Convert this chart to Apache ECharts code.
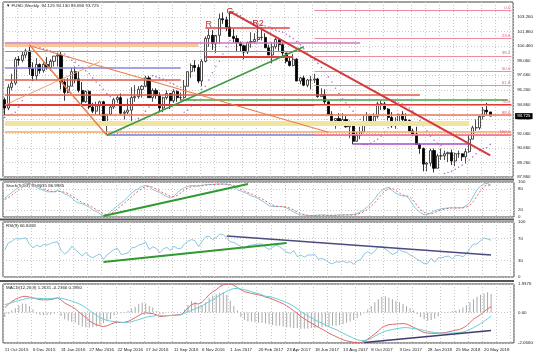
<!DOCTYPE html>
<html><head><meta charset="utf-8">
<script src="https://cdn.jsdelivr.net/npm/echarts@6/dist/echarts.min.js"></script>
<style>html,body{margin:0;padding:0;background:#fff}#c{width:536px;height:358px}</style>
</head><body><div id="c"></div>
<script>
// ---- data (weekly bars starting 11 Oct 2015) ----
const slotCount = 145;
const opens = [95.3,94.5,96.5,96.9,99.2,99.1,99.6,100.0,98.3,97.6,98.7,98.1,98.7,98.4,99.0,99.5,99.6,97.0,96.0,96.6,98.0,97.3,96.2,95.1,96.1,94.6,94.2,94.7,95.1,93.1,93.9,94.6,95.3,95.5,94.0,94.1,94.3,95.5,95.6,96.3,96.6,97.4,95.5,96.2,95.7,94.5,95.5,95.9,95.2,96.1,95.5,95.5,96.6,98.0,98.6,98.4,97.1,99.0,101.2,101.5,100.7,101.5,103.1,103.0,102.3,101.4,101.2,100.8,100.5,99.9,100.8,100.9,101.1,101.3,101.3,100.3,99.6,100.4,101.1,100.6,99.8,99.0,98.6,99.2,97.1,97.4,96.7,97.2,97.2,97.3,95.6,95.8,95.1,93.9,93.3,93.5,93.1,93.4,92.7,92.8,91.3,91.9,92.2,93.1,93.8,93.1,93.7,94.9,94.9,94.4,93.6,92.8,93.1,93.9,93.4,93.3,92.3,92.0,91.0,90.6,89.1,89.2,90.4,88.7,89.9,89.9,90.1,90.2,89.4,90.1,90.1,89.8,90.3,91.5,92.6,92.6,93.7,94.3,94.125];
const highs = [95.5,96.8,97.8,99.4,99.5,99.9,100.2,100.5,98.9,99.3,98.8,98.9,99.4,99.2,99.5,99.8,99.9,97.3,97.4,98.4,98.5,98.0,97.0,96.2,96.2,95.0,95.1,95.2,95.2,93.9,94.7,95.5,95.7,95.9,94.3,95.4,96.5,96.7,96.6,96.7,97.6,97.6,96.4,96.4,96.0,95.6,96.2,95.9,96.3,96.2,96.0,97.2,98.0,98.8,99.1,98.7,99.2,101.4,102.1,102.0,101.4,103.6,103.7,103.3,103.8,102.1,101.5,100.9,100.6,100.9,101.8,101.7,102.3,102.3,101.7,100.6,100.8,101.3,101.1,100.8,99.8,99.4,99.7,99.3,97.5,97.6,97.3,97.6,97.8,97.4,96.4,96.3,95.2,94.2,93.5,94.0,94.0,93.8,93.3,92.9,92.2,92.7,93.8,94.1,93.8,94.0,95.1,95.2,95.1,94.5,94.1,93.6,93.9,94.2,94.0,93.4,92.5,92.7,91.1,90.7,89.3,90.6,90.6,90.1,90.6,90.4,90.3,90.5,90.2,90.4,90.1,90.6,91.9,92.8,93.4,93.6,94.6,95.0,94.13];
const lows = [93.8,94.3,96.2,96.7,98.6,98.9,99.3,97.7,97.1,97.2,97.8,97.9,98.2,98.1,98.5,98.5,96.3,95.2,95.9,96.6,96.9,96.0,94.6,95.0,94.4,94.0,93.9,93.8,93.0,91.9,93.8,94.4,95.0,93.9,93.4,93.9,93.0,95.1,95.4,95.5,96.5,95.5,95.1,95.4,94.1,94.1,95.3,94.4,95.0,95.1,95.2,95.4,96.6,97.4,98.0,96.9,96.6,98.9,100.4,100.1,99.8,100.7,102.6,101.9,101.4,100.8,99.9,99.9,99.2,99.7,100.3,100.7,100.9,101.0,100.3,99.6,98.8,100.2,100.0,99.5,98.8,98.5,98.5,97.1,96.8,96.6,96.5,96.3,96.9,95.5,95.6,94.9,93.9,93.2,92.5,92.9,93.0,92.6,91.6,91.0,91.3,91.5,92.2,92.9,92.8,92.8,93.5,94.3,94.3,93.3,92.6,92.5,92.8,93.1,93.0,92.2,91.8,91.0,90.1,88.4,88.4,88.9,88.3,88.7,89.5,89.5,89.3,89.0,88.9,89.7,89.4,89.2,90.2,91.5,92.3,92.4,93.4,93.8,93.69];
const closes = [94.5,96.5,96.9,99.2,99.1,99.6,100.0,98.3,97.6,98.7,98.1,98.7,98.4,99.0,99.5,99.6,97.0,96.0,96.6,98.0,97.3,96.2,95.1,96.1,94.6,94.2,94.7,95.1,93.1,93.9,94.6,95.3,95.5,94.0,94.1,94.3,95.5,95.6,96.3,96.6,97.4,95.5,96.2,95.7,94.5,95.5,95.9,95.2,96.1,95.5,95.5,96.6,98.0,98.6,98.4,97.1,99.0,101.2,101.5,100.7,101.5,103.1,103.0,102.3,101.4,101.2,100.8,100.5,99.9,100.8,100.9,101.1,101.3,101.3,100.3,99.6,100.4,101.1,100.6,99.8,99.0,98.6,99.2,97.1,97.4,96.7,97.2,97.2,97.3,95.6,95.8,95.1,93.9,93.3,93.5,93.1,93.4,92.7,92.8,91.3,91.9,92.2,93.1,93.8,93.1,93.7,94.9,94.9,94.4,93.6,92.8,93.1,93.9,93.4,93.3,92.3,92.0,91.0,90.6,89.1,89.2,90.4,88.7,89.9,89.9,90.1,90.2,89.4,90.1,90.1,89.8,90.3,91.5,92.6,92.6,93.7,94.3,94.13,93.725];
// parabolic SAR dots
const sarDots = [93.6,93.8,93.9,94.1,94.6,95.2,95.8,96.5,100.5,100.4,100.3,100.2,100.1,100.0,99.95,99.9,99.95,99.7,99.4,99.1,98.9,98.6,98.4,98.1,97.8,97.4,97.0,96.7,96.3,95.9,95.6,91.9,92.1,92.4,92.6,92.8,93.0,93.2,93.5,93.8,94.2,94.6,97.6,97.5,97.4,97.3,97.1,96.9,96.8,96.6,96.5,94.1,94.3,94.7,95.2,95.8,96.3,96.6,97.2,97.9,98.5,99.0,99.7,100.4,101.0,103.8,103.6,103.4,103.1,102.9,102.8,102.7,102.6,102.5,102.4,102.3,102.1,102.0,101.9,101.8,101.6,101.4,101.2,100.9,100.6,100.2,99.8,99.4,99.1,98.8,98.4,98.0,97.5,97.0,96.4,95.9,95.4,95.0,94.6,94.2,93.8,93.4,91.0,91.0,91.1,91.3,91.5,91.8,92.2,92.6,95.2,95.1,95.0,94.9,94.7,94.5,94.2,93.8,93.3,92.8,92.3,91.8,91.4,91.1,90.9,88.2,88.3,88.4,88.6,88.8,89.0,89.2,89.5,89.8,90.1,90.4,90.6,90.7,91.0];

const stochK = [54,62,70,78,85,92,97,96,90,85,80,76,72,72,72,76,72,66,62,55,45,40,38,33,28,20,15,9,4,5,15,24,32,40,48,58,68,76,82,88,90,87,78,74,70,64,58,55,60,70,78,84,88,90,88,89,91,92,93,93,94,94,94,93,92,85,78,74,70,66,60,57,52,46,40,32,30,30,30,29,26,20,14,9,6,5,4,4,5,5,6,5,4,4,5,6,6,6,6,7,10,15,22,30,40,52,66,76,82,85,75,68,62,60,60,48,32,20,12,6,8,12,18,21,24,25,26,26,26,26,27,33,42,60,78,88,95,96,90.9];
const stochD = [50,55,62,70,78,85,91,95,94,90,85,80,76,73,72,73,73,71,67,61,54,47,41,37,33,27,21,15,9,6,8,15,24,32,40,49,58,67,75,82,87,88,85,80,74,69,64,59,58,62,69,77,83,87,89,89,89,91,92,93,93,94,94,94,93,90,85,79,74,70,66,61,56,52,46,39,34,31,30,30,28,25,20,14,10,7,5,4,4,5,5,5,5,5,5,5,6,6,6,6,8,11,16,22,31,41,53,65,75,81,81,76,68,63,61,56,47,33,21,13,9,9,13,17,21,23,25,26,26,26,26,29,34,45,60,75,87,93,87];
const rsi = [49,62,65,70,69,70,71,60,53,58,55,59,58,61,63,64,48,42,46,56,50,44,38,45,38,35,39,42,32,40,45,50,52,41,42,44,53,54,58,60,64,50,55,52,44,51,54,48,56,52,52,60,65,68,66,55,65,73,74,68,72,78,77,71,64,63,59,56,52,57,58,59,60,60,54,50,54,58,55,50,45,43,48,37,40,36,40,40,41,32,34,31,26,24,28,27,29,26,28,23,29,32,42,46,42,47,55,55,51,46,41,44,50,46,45,40,37,32,29,24,25,34,27,35,35,37,38,33,39,39,37,42,52,60,60,66,71,69,66.85];
const macdMain = [0.34,0.55,0.75,0.9,1.0,1.09,1.1,1.05,0.98,0.93,0.88,0.86,0.86,0.88,0.93,1.0,0.85,0.65,0.52,0.4,0.25,0.05,-0.15,-0.34,-0.55,-0.72,-0.82,-0.9,-0.95,-0.9,-0.8,-0.7,-0.66,-0.68,-0.66,-0.6,-0.48,-0.35,-0.2,-0.07,-0.02,-0.05,-0.07,-0.15,-0.27,-0.26,-0.22,-0.2,-0.18,-0.15,-0.14,0.05,0.3,0.54,0.62,0.58,0.7,0.95,1.22,1.4,1.55,1.76,1.88,1.93,1.95,1.85,1.7,1.55,1.42,1.36,1.3,1.25,1.2,1.15,1.05,1.0,0.9,0.8,0.7,0.6,0.45,0.3,0.12,-0.05,-0.27,-0.42,-0.58,-0.72,-0.86,-1.0,-1.12,-1.25,-1.4,-1.52,-1.63,-1.75,-1.85,-1.92,-1.97,-2.02,-2.04,-2.04,-1.95,-1.8,-1.63,-1.45,-1.25,-1.02,-0.9,-0.82,-0.8,-0.78,-0.76,-0.75,-0.78,-0.88,-1.0,-1.12,-1.25,-1.36,-1.4,-1.4,-1.42,-1.4,-1.38,-1.36,-1.3,-1.25,-1.2,-1.15,-1.05,-0.9,-0.68,-0.45,-0.3,-0.14,0.05,0.25,0.395];
const macdSignal = [0.54,0.6,0.68,0.75,0.82,0.88,0.94,1.0,0.99,0.97,0.96,0.95,0.94,0.95,0.97,1.0,0.97,0.92,0.85,0.78,0.7,0.6,0.48,0.34,0.15,-0.02,-0.18,-0.34,-0.45,-0.54,-0.58,-0.61,-0.63,-0.66,-0.68,-0.66,-0.62,-0.55,-0.48,-0.4,-0.33,-0.27,-0.24,-0.2,-0.21,-0.22,-0.21,-0.2,-0.2,-0.18,-0.15,-0.05,0.05,0.15,0.26,0.34,0.45,0.6,0.75,0.88,1.02,1.18,1.32,1.45,1.55,1.63,1.63,1.6,1.55,1.5,1.42,1.35,1.28,1.2,1.1,1.09,1.02,0.95,0.86,0.78,0.68,0.56,0.42,0.25,0.07,-0.08,-0.22,-0.36,-0.5,-0.61,-0.72,-0.84,-0.96,-1.06,-1.15,-1.28,-1.4,-1.52,-1.63,-1.75,-1.85,-1.9,-1.9,-1.85,-1.75,-1.6,-1.48,-1.36,-1.26,-1.2,-1.15,-1.1,-1.06,-1.03,-1.02,-1.05,-1.08,-1.12,-1.15,-1.22,-1.28,-1.32,-1.36,-1.38,-1.39,-1.4,-1.4,-1.39,-1.38,-1.36,-1.32,-1.25,-1.15,-1.02,-0.9,-0.75,-0.6,-0.42,-0.2366];
const macdHist = [-0.3,-0.1,0.15,0.3,0.5,0.62,0.6,0.45,0.2,-0.08,-0.16,-0.18,-0.16,-0.14,-0.08,0.0,-0.24,-0.45,-0.55,-0.62,-0.7,-0.85,-0.95,-1.0,-1.02,-1.0,-0.95,-0.85,-0.72,-0.55,-0.44,-0.18,-0.06,-0.04,0.04,0.12,0.28,0.4,0.56,0.66,0.62,0.44,0.34,0.1,-0.12,-0.08,-0.02,0.0,0.04,0.06,0.02,0.2,0.5,0.78,0.72,0.48,0.5,0.7,1.0,1.15,1.25,1.35,1.4,1.2,0.8,0.44,0.14,-0.3,-0.5,-0.6,-0.6,-0.65,-0.7,-0.7,-0.75,-0.8,-0.85,-0.9,-0.9,-0.95,-1.0,-1.0,-1.05,-1.05,-1.1,-1.1,-1.1,-1.05,-1.05,-1.0,-1.0,-0.95,-0.95,-0.9,-0.9,-0.85,-0.8,-0.7,-0.6,-0.5,-0.35,-0.2,-0.05,0.2,0.45,0.7,0.9,1.05,1.1,1.0,0.9,0.8,0.7,0.6,0.45,0.3,0.15,-0.1,-0.3,-0.45,-0.55,-0.5,-0.4,-0.25,0.02,0.04,0.06,0.1,0.14,0.2,0.34,0.5,0.7,0.9,1.08,1.2,1.3,1.38,1.263];

// axis tick labels
const priceTicks = [87.86,89.26,90.66,92.06,93.46,94.86,96.26,97.66,99.06,100.46,101.86,103.26];
const stochTicks = [0,20,80,100];
const rsiTicks = [0,30,70,100];
const macdTicks = [-2.066,0,1.9376];
const fibNames = ['0.0','23.6','38.2','50.0','61.8','78.6','88.6','100.0'];
const fibPrices = [103.9,101.2,99.5,98.0,96.65,94.8,93.8,91.95];
const lastPrice = 93.725;

// horizontal drawn levels: [price, fromBar, toBar, color, width]
const hLines = [
  [100.79,0,100.8,'#cc77bb',1.5],[100.5,0,55.4,'#f6c79a',3],[100.01,0,100.8,'#e3708a',1],
  [102.24,56.8,80.9,'#e04040',1.5],[99.43,56.8,82.4,'#e04040',2],
  [98.37,0,49.7,'#8a86dd',1.5],[97.21,0,49.7,'#e05a4a',1.5],[95.75,0,117.8,'#e05a4a',1.5],
  [95.27,49.7,142.5,'#45a045',1.5],[94.79,0,144,'#e03c3c',2],[93.82,0,144,'#e8775a',1.5],
  [93.0,0,132,'#f3e3a0',5],[92.17,0,144,'#f0a868',1.5],[91.88,29,144,'#7b7bd6',1.5],
  [91.1,99.4,132,'#a64cc6',1.5]
];
// trend lines: [bar1, price1, bar2, price2, color, width]
const tLines = [
  [63.9,103.79,137.7,89.94,'#d43a3a',2],
  [29.0,91.88,84.6,100.4,'#3f9a3f',1.5],
  [6.6,100.6,29.0,91.88,'#e8804a',1.5],
  [6.6,100.5,92.3,92.17,'#e8804a',1.2],
  [0,94.79,27.0,98.95,'#f0a070',1]
];
const stochTrend = [27.9,3,69.0,94];
const rsiTrendUp = [27.9,27.3,80.1,61.8];
const rsiTrendDown = [62.5,74.5,137.7,40];
const macdTrend = [102.2,-2.04,137.7,-1.22];
const letters = [['R',58,102.5],['G',63.6,103.75],['R2',72.2,102.65]];

// ---- categories ----
const MON = ['Jan','Feb','Mar','Apr','May','Jun','Jul','Aug','Sep','Oct','Nov','Dec'];
const categories = [];
let dt = new Date(Date.UTC(2015,9,11));
for (let i=0;i<slotCount;i++){ categories.push(dt.getUTCDate()+' '+MON[dt.getUTCMonth()]+' '+dt.getUTCFullYear()); dt = new Date(dt.getTime()+7*864e5); }

const FONT = 'Liberation Sans';
const FS = 4.4;
const candleData = opens.map((o,i)=>[o, closes[i], lows[i], highs[i]]);
const gridLine = {show:true, interval:3, lineStyle:{color:'#c9c9c9', type:[1,2], width:1}};

function xAx(idx, showLabel){
  return {type:'category', gridIndex:idx, data:categories, boundaryGap:true,
    axisLine:{show:false}, axisTick:{show:false},
    axisLabel:{show:showLabel, interval:7, align:'left', fontSize:FS, fontFamily:FONT, color:'#222', margin:5, showMinLabel:true, showMaxLabel:false, hideOverlap:false},
    splitLine:gridLine};
}
function yAx(idx, min, max, ticks, fmt){
  return {type:'value', gridIndex:idx, position:'right', min:min, max:max, scale:true,
    axisLine:{show:false}, axisTick:{show:false, customValues:ticks},
    axisLabel:{fontSize:FS, fontFamily:FONT, color:'#222', margin:4, customValues:ticks, formatter:fmt, showMinLabel:true, showMaxLabel:true},
    splitLine:{show:true, lineStyle:{color:'#c9c9c9', type:[1,2]}}};
}
const seg = (a,b,c,d,col,w,t)=>[{coord:[a,b], lineStyle:{color:col,width:w,type:t||'solid'}},{coord:[c,d]}];

const mainMark = [];
hLines.forEach(h=>mainMark.push(seg(h[1],h[0],h[2],h[0],h[3],h[4])));
fibPrices.forEach((p,i)=>mainMark.push([{coord:[88,p], lineStyle:{color:'#f08aa0',width:1.2,type:'solid'},
  label:{show:true, position:'insideEndTop', formatter:fibNames[i], fontSize:FS, color:'#e0607a', fontFamily:FONT, distance:1}},{coord:[144,p]}]));
tLines.forEach(t=>mainMark.push(seg(t[0],t[1],t[2],t[3],t[4],t[5])));

const option = {
  animation:false,
  backgroundColor:'#ffffff',
  grid:[
    {left:3,right:22,top:2,height:175,show:true,borderColor:'#444',borderWidth:1},
    {left:3,right:22,top:182,height:35,show:true,borderColor:'#444',borderWidth:1},
    {left:3,right:22,top:222,height:55,show:true,borderColor:'#444',borderWidth:1},
    {left:3,right:22,top:284,height:59,show:true,borderColor:'#444',borderWidth:1}
  ],
  xAxis:[xAx(0,false),xAx(1,false),xAx(2,false),xAx(3,true)],
  yAxis:[
    yAx(0,87.86,104.71,priceTicks,v=>v.toFixed(3)),
    yAx(1,0,100,stochTicks,v=>String(v)),
    yAx(2,0,100,rsiTicks,v=>String(v)),
    yAx(3,-2.066,1.9376,macdTicks,v=>v===0?'0.00':v.toFixed(4))
  ],
  graphic:[
    {type:'line',shape:{x1:0,y1:179.5,x2:514,y2:179.5},style:{stroke:'#555',lineWidth:2}},
    {type:'line',shape:{x1:0,y1:219.5,x2:514,y2:219.5},style:{stroke:'#555',lineWidth:2}},
    {type:'line',shape:{x1:0,y1:281,x2:514,y2:281},style:{stroke:'#555',lineWidth:2}},
    {type:'text',left:6,top:4,style:{text:'▼ FUSD,Weekly  94.125 94.130 93.690 93.725',fontSize:FS,fill:'#222',fontFamily:FONT}},
    {type:'text',left:6,top:184,style:{text:'Stoch(5,3,3) 90.9035 86.9985',fontSize:FS,fill:'#222',fontFamily:FONT}},
    {type:'text',left:6,top:224,style:{text:'RSI(9) 66.8468',fontSize:FS,fill:'#222',fontFamily:FONT}},
    {type:'text',left:6,top:286,style:{text:'MACD(12,26,9) 1.2631 -0.2366 0.3950',fontSize:FS,fill:'#222',fontFamily:FONT}}
  ],
  series:[
    {type:'candlestick', xAxisIndex:0, yAxisIndex:0, data:candleData, barWidth:2.6,
      itemStyle:{color:'#ffffff',color0:'#000000',borderColor:'#222',borderColor0:'#000',borderWidth:0.8},
      markLine:{silent:true, symbol:['none','none'], animation:false, label:{show:false}, data:mainMark},
      markPoint:{silent:true, symbol:'circle', symbolSize:0, animation:false,
        data:letters.map(l=>({coord:[l[1],l[2]], label:{show:true, formatter:l[0], color:'#b83030', fontSize:9, fontFamily:FONT, position:'inside'}}))}},
    {type:'scatter', xAxisIndex:0, yAxisIndex:0, data:sarDots, symbol:'circle', symbolSize:1.6, itemStyle:{color:'#9a4fc0'}, silent:true},
    {type:'line', xAxisIndex:0, yAxisIndex:0, data:[], symbol:'none',
      markLine:{silent:true, symbol:['none','none'], animation:false,
        data:[{yAxis:lastPrice, lineStyle:{color:'rgba(0,0,0,0)',width:0},
          label:{show:true, position:'end', formatter:lastPrice.toFixed(3), backgroundColor:'#000', color:'#fff', fontSize:FS, padding:[1,2], fontFamily:FONT, distance:2}}]}},
    {type:'line', xAxisIndex:1, yAxisIndex:1, data:stochK, symbol:'none', lineStyle:{color:'#8cc6dc',width:1},
      markLine:{silent:true,symbol:['none','none'],label:{show:false},data:[seg(stochTrend[0],stochTrend[1],stochTrend[2],stochTrend[3],'#2f9a2f',2)]}},
    {type:'line', xAxisIndex:1, yAxisIndex:1, data:stochD, symbol:'none', lineStyle:{color:'#e06868',width:1,type:[2,2]}},
    {type:'line', xAxisIndex:2, yAxisIndex:2, data:rsi, symbol:'none', lineStyle:{color:'#8cc6dc',width:1},
      markLine:{silent:true,symbol:['none','none'],label:{show:false},data:[
        seg(rsiTrendUp[0],rsiTrendUp[1],rsiTrendUp[2],rsiTrendUp[3],'#2f9a2f',2),
        seg(rsiTrendDown[0],rsiTrendDown[1],rsiTrendDown[2],rsiTrendDown[3],'#4a4a80',1.5)]}},
    {type:'bar', xAxisIndex:3, yAxisIndex:3, data:macdHist, barWidth:1, itemStyle:{color:'#a8a8a8'}},
    {type:'line', xAxisIndex:3, yAxisIndex:3, data:macdMain, symbol:'none', lineStyle:{color:'#e06a6a',width:1},
      markLine:{silent:true,symbol:['none','none'],label:{show:false},data:[seg(macdTrend[0],macdTrend[1],macdTrend[2],macdTrend[3],'#3c3c6e',1.5)]}},
    {type:'line', xAxisIndex:3, yAxisIndex:3, data:macdSignal, symbol:'none', lineStyle:{color:'#66d0d8',width:1}}
  ]
};
const chart = echarts.init(document.getElementById('c'));
chart.setOption(option);
</script></body></html>
